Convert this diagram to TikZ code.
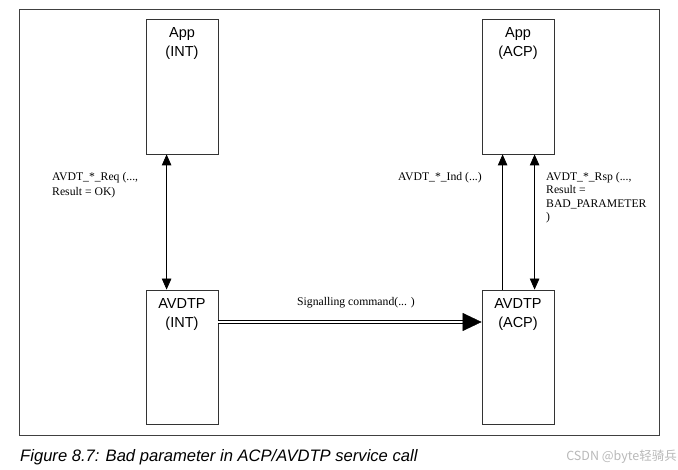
\documentclass[tikz,border=0pt]{standalone}
\usepackage{fontspec}
\setmainfont{Liberation Serif}
\newfontfamily\arialfont{Liberation Sans}
\newfontfamily\cjkfont{Noto Sans CJK SC}
\usetikzlibrary{arrows.meta,positioning,calc}

\begin{document}
\begin{tikzpicture}[x=1pt, y=-1pt, >={Triangle[length=11pt, width=9.5pt]},
  box/.style={draw=black!80, line width=0.8pt, minimum width=72pt, inner sep=0pt},
  boxtext/.style={font=\arialfont\fontsize{14.5}{19}\selectfont, align=center, anchor=north, inner sep=0pt},
  msg/.style={font=\fontsize{11.7}{13.5}\selectfont, align=left, inner sep=0pt},
  link/.style={line width=0.8pt}]

\fill[white] (0,0) rectangle (678,470);
\useasboundingbox (0,0) rectangle (678,470);

% Frame
\draw[black!75, line width=0.8pt] (19.6,9) rectangle (659.6,435);

% Application boxes
\node[box, minimum height=135pt] (appint) at (182,86.5) {};
\node[box, minimum height=135pt] (appacp) at (518,86.5) {};
\node[boxtext] (appintlbl) at ([yshift=-9pt]appint.north) {App\\(INT)};
\node[boxtext] (appacplbl) at ([yshift=-9pt]appacp.north) {App\\(ACP)};

% AVDTP boxes
\node[box, minimum height=134pt] (avdtpint) at (182,357) {};
\node[box, minimum height=134pt] (avdtpacp) at (518,357) {};
\node[boxtext] (avdtpintlbl) at ([yshift=-8.5pt]avdtpint.north) {AVDTP\\(INT)};
\node[boxtext] (avdtpacplbl) at ([yshift=-8.5pt]avdtpacp.north) {AVDTP\\(ACP)};

% INT side: request
\draw[link, <->] ([xshift=21pt]appint.south west) -- ([xshift=21pt]avdtpint.north west);
\node[msg, font=\fontsize{11.7}{15}\selectfont, anchor=north west] (reqlbl) at (52,172)
  {AVDT\_*\_Req (...,\\Result = OK)};

% ACP side: indication and response
\draw[link, ->] ([xshift=21pt]avdtpacp.north west) -- ([xshift=21pt]appacp.south west);
\draw[link, <->] ([xshift=53pt]appacp.south west) -- ([xshift=53pt]avdtpacp.north west);
\node[msg, anchor=north east] (indlbl) at (482,172) {AVDT\_*\_Ind (...)};
\node[msg, anchor=north west] (rsplbl) at (546,172)
  {AVDT\_*\_Rsp (...,\\Result =\\BAD\_PARAMETER\\)};

% Signalling command between the AVDTP entities
\coordinate (sigtip) at ([yshift=35pt]avdtpacp.west);
\coordinate (sigbase) at ([xshift=-19pt]sigtip);
\draw[double=white, double distance=1.8pt, line width=1pt]
  ([yshift=35pt]avdtpint.east) -- ([xshift=1pt]sigbase)
  node[msg, midway, above=13pt, xshift=15pt] (siglbl) {Signalling command(... )};
\draw[-{Triangle[length=19pt, width=18pt]}] (sigbase) -- (sigtip);

% Caption
\node[font=\arialfont\itshape\fontsize{16.6}{19}\selectfont, anchor=west, inner sep=0pt] (caption)
  at (20,457) {Figure 8.7: Bad parameter in ACP/AVDTP service call};
\node[font=\cjkfont\fontsize{12.5}{14}\selectfont, text=gray!55, anchor=east, inner sep=0pt] (mark)
  at (677,457) {CSDN @byte轻骑兵};

\end{tikzpicture}
\end{document}
